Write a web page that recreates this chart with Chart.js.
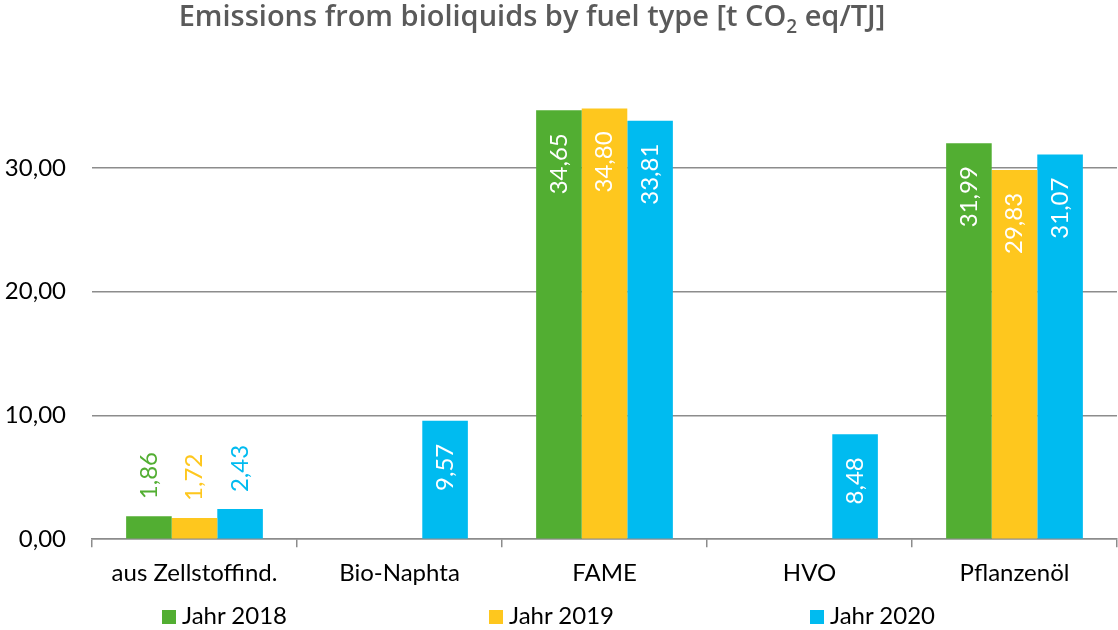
<!DOCTYPE html>
<html>
<head>
    <meta charset="utf-8">
    <script src="https://cdn.jsdelivr.net/npm/chart.js@4/dist/chart.umd.min.js"></script>
    <style>
        body { margin: 0; background: #fff; }
        #wrap { position: relative; width: 1118px; height: 630px; font-family: Lato, sans-serif; }
        #title { position: absolute; left: 0; width: 1064px; top: -5px; text-align: center;
                 font-family: 'Open Sans', sans-serif; font-size: 29px; font-weight: 600;
                 color: #5a5a5a; white-space: nowrap; }
        #title span { display: inline-block; }
        #title sub { font-size: 19px; vertical-align: -7px; line-height: 0; }
        .leg { position: absolute; top: 600px; font-size: 24px; color: #000; white-space: nowrap; }
        .leg i { display: inline-block; width: 14px; height: 14px; margin-right: 6px; }
    </style>
</head>
<body>
<div id="wrap">
    <canvas id="chart" width="1118" height="630"></canvas>
    <div id="title"><span>Emissions from bioliquids by fuel type [t CO<sub>2</sub> eq/TJ]</span></div>
    <div id="legend"></div>
</div>
<script>
    var categories = ['aus Zellstoffind.', 'Bio-Naphta', 'FAME', 'HVO', 'Pflanzenöl'];
    var seriesNames = ['Jahr 2018', 'Jahr 2019', 'Jahr 2020'];
    var jahr2018 = [1.86, null, 34.65, null, 31.99];
    var jahr2019 = [1.72, null, 34.80, null, 29.83];
    var jahr2020 = [2.43, 9.57, 33.81, 8.48, 31.07];
    var yTicks = [0, 10, 20, 30];
    var colors = ['#52ae32', '#fec71e', '#00bbf0'];

    function fmt(v) {
        return v.toFixed(2).replace('.', ',');
    }

    // rotated value labels: white inside tall bars, coloured above short ones
    var barLabels = {
        id: 'barLabels',
        afterDatasetsDraw: function (chart) {
            var ctx = chart.ctx;
            ctx.save();
            ctx.font = '24px Lato, sans-serif';
            ctx.textBaseline = 'middle';
            chart.data.datasets.forEach(function (ds, i) {
                chart.getDatasetMeta(i).data.forEach(function (bar, j) {
                    var v = ds.data[j];
                    if (v === null) return;
                    var txt = fmt(v);
                    var w = ctx.measureText(txt).width;
                    ctx.save();
                    ctx.translate(bar.x, bar.y);
                    ctx.rotate(-Math.PI / 2);
                    if (bar.base - bar.y > w + 30) {
                        ctx.fillStyle = '#fff';
                        ctx.textAlign = 'right';
                        ctx.fillText(txt, -23, 0);
                    } else {
                        ctx.fillStyle = ds.backgroundColor;
                        ctx.textAlign = 'left';
                        ctx.fillText(txt, 17, 0);
                    }
                    ctx.restore();
                });
            });
            ctx.restore();
        }
    };

    var chart = new Chart('chart', {
        type: 'bar',
        data: {
            labels: categories,
            datasets: [jahr2018, jahr2019, jahr2020].map(function (d, i) {
                return {
                    label: seriesNames[i],
                    data: d,
                    backgroundColor: colors[i],
                    categoryPercentage: 0.667,
                    barPercentage: 1
                };
            })
        },
        options: {
            responsive: false,
            animation: false,
            layout: { padding: { top: 44, right: 1, bottom: 30, left: 0 } },
            plugins: {
                legend: { display: false },
                tooltip: { enabled: false }
            },
            scales: {
                x: {
                    grid: { drawOnChartArea: false, offset: true, tickLength: 8, color: '#8c8c8c', lineWidth: 1.5 },
                    border: { color: '#8c8c8c', width: 1.5 },
                    ticks: { color: '#000', padding: 12, font: { family: 'Lato', size: 24 } }
                },
                y: {
                    min: 0,
                    max: 40,
                    afterFit: function (axis) { axis.width = 92; },
                    afterBuildTicks: function (axis) {
                        axis.ticks = yTicks.map(function (v) { return { value: v }; });
                    },
                    grid: { drawTicks: false, color: '#8c8c8c', lineWidth: 1.5 },
                    border: { display: false },
                    ticks: {
                        color: '#000',
                        padding: 26,
                        font: { family: 'Lato', size: 24 },
                        callback: function (v) { return fmt(v); }
                    }
                }
            }
        },
        plugins: [barLabels]
    });

    var legendX = [162, 489, 810];
    var legend = document.getElementById('legend');
    seriesNames.forEach(function (name, i) {
        var el = document.createElement('div');
        el.className = 'leg';
        el.style.left = legendX[i] + 'px';
        el.innerHTML = '<i style="background:' + colors[i] + '"></i>' + name;
        legend.appendChild(el);
    });
</script>
</body>
</html>
